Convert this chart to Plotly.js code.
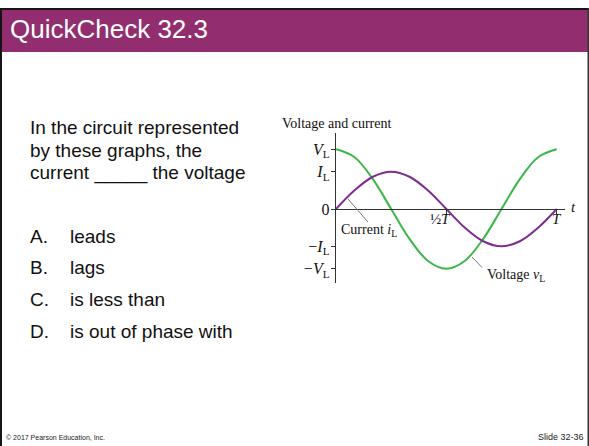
<!DOCTYPE html>
<html>
<head>
<meta charset="utf-8">
<script src="https://cdn.plot.ly/plotly-3.0.1.min.js"></script>
<style>
  html, body { margin: 0; padding: 0; background: #fff; }
  #chart { width: 589px; height: 446px; }
</style>
</head>
<body>
<div id="chart"></div>
<script>
// ---- Data (time in units of T, values relative to V_L) ----
const timeT   = [0, 0.083, 0.167, 0.25, 0.333, 0.417, 0.5, 0.583, 0.667, 0.75, 0.833, 0.917, 1];
const voltage = [1, 0.87, 0.5, 0, -0.5, -0.87, -1, -0.87, -0.5, 0, 0.5, 0.87, 1];
const current = [0, 0.31, 0.54, 0.625, 0.54, 0.31, 0, -0.31, -0.54, -0.625, -0.54, -0.31, 0];

const yTickVals  = [1, 0.625, 0, -0.625, -1];
const yTickText  = ['<i>V</i><sub>L</sub>', '<i>I</i><sub>L</sub>', '0', '\u2212<i>I</i><sub>L</sub>', '\u2212<i>V</i><sub>L</sub>'];
const xTickVals  = [0.5, 1];

const titleText  = 'QuickCheck 32.3';
const questionLines = ['In the circuit represented', 'by these graphs, the', 'current _____ the voltage'];
const optionLetters = ['A.', 'B.', 'C.', 'D.'];
const optionTexts   = ['leads', 'lags', 'is less than', 'is out of phase with'];

// ---- layout helpers (page pixels -> paper fractions) ----
const W = 589, H = 446;
const px = v => v / W;
const py = v => 1 - v / H;

const sans = 'Liberation Sans, Arial, Helvetica, sans-serif';
const serif = 'Liberation Serif, Times New Roman, serif';

const traces = [
  { x: timeT, y: voltage, type: 'scatter', mode: 'lines', line: { color: '#3DB54A', width: 2, shape: 'spline' }, hoverinfo: 'skip', showlegend: false },
  { x: timeT, y: current, type: 'scatter', mode: 'lines', line: { color: '#7E2C8E', width: 2, shape: 'spline' }, hoverinfo: 'skip', showlegend: false }
];

const annotations = [];
function ann(text, x, y, opts) {
  annotations.push(Object.assign({
    text: text, x: x, y: y, xref: 'paper', yref: 'paper', showarrow: false,
    xanchor: 'left', yanchor: 'middle', font: { family: sans, size: 19, color: '#111' }
  }, opts || {}));
}

ann(titleText, px(8), py(29), { font: { family: sans, size: 26, color: '#ffffff' } });
const qY = [127, 150, 173];
questionLines.forEach((t, i) => ann(t, px(28), py(qY[i])));
const oY = [236, 267.5, 299.5, 331];
optionLetters.forEach((t, i) => ann(t, px(28), py(oY[i])));
optionTexts.forEach((t, i) => ann(t, px(68), py(oY[i])));

ann('\u00a9 2017 Pearson Education, Inc.', px(4), py(437), { font: { family: sans, size: 7, color: '#222' } });
ann('Slide 32-36', px(586), py(437), { xanchor: 'right', font: { family: sans, size: 9, color: '#222' } });

// chart labels
ann('Voltage and current', px(280), py(123.5), { font: { family: serif, size: 14, color: '#111' } });
ann('Current <i>i</i><sub>L</sub>', px(339), py(230), { font: { family: serif, size: 14, color: '#111' } });
ann('Voltage <i>v</i><sub>L</sub>', px(485), py(275), { font: { family: serif, size: 14, color: '#111' } });
ann('<i>t</i>', px(569), py(207), { font: { family: serif, size: 15, color: '#111' } });
ann('\u00bd', 0.5, py(219), { xref: 'x', xanchor: 'right', xshift: -3, font: { family: serif, size: 15, color: '#111' } });
ann('<i>T</i>', 0.5, py(219), { xref: 'x', xanchor: 'center', font: { family: serif, size: 15, color: '#111' } });
ann('<i>T</i>', 1, py(219), { xref: 'x', xanchor: 'center', font: { family: serif, size: 15, color: '#111' } });

const shapes = [
  // header bar
  { type: 'rect', xref: 'paper', yref: 'paper', x0: 0, x1: 1, y0: py(52), y1: py(9.5), fillcolor: '#922E6F', line: { width: 0 }, layer: 'below' },
  { type: 'rect', xref: 'paper', yref: 'paper', x0: 0, x1: 1, y0: py(10), y1: py(8), fillcolor: '#151515', line: { width: 0 }, layer: 'below' },
  // left / right border
  { type: 'rect', xref: 'paper', yref: 'paper', x0: 0, x1: px(2), y0: 0, y1: py(8), fillcolor: '#151515', line: { width: 0 }, layer: 'below' },
  { type: 'rect', xref: 'paper', yref: 'paper', x0: px(587.5), x1: 1, y0: 0, y1: py(8), fillcolor: '#333', line: { width: 0 }, layer: 'below' },
  // leader lines
  { type: 'line', xref: 'x', yref: 'y', x0: (348 - 336) / 220.7, y0: (209 - 199) / 59.7, x1: (368 - 336) / 220.7, y1: (209 - 222) / 59.7, line: { color: '#777', width: 1 } },
  { type: 'line', xref: 'x', yref: 'y', x0: (472 - 336) / 220.7, y0: (209 - 257) / 59.7, x1: (482 - 336) / 220.7, y1: (209 - 267.5) / 59.7, line: { color: '#777', width: 1 } }
];

const layout = {
  width: W, height: H,
  margin: { l: 0, r: 0, t: 0, b: 0, pad: 0 },
  paper_bgcolor: '#ffffff', plot_bgcolor: 'rgba(0,0,0,0)',
  showlegend: false,
  xaxis: {
    domain: [px(336), px(565)], range: [0, (565 - 336) / 220.7],
    anchor: 'free', position: (H - 209) / H,
    showline: true, linecolor: '#333', linewidth: 1.3,
    ticks: 'outside', ticklen: 4, tickwidth: 1, tickcolor: '#333',
    tickvals: xTickVals, showticklabels: false,
    showgrid: false, zeroline: false, fixedrange: true
  },
  yaxis: {
    domain: [(H - 283) / H, (H - 133) / H], range: [-(283 - 209) / 59.7, (209 - 133) / 59.7],
    anchor: 'x',
    showline: true, linecolor: '#333', linewidth: 1.3,
    ticks: 'outside', ticklen: 4, tickwidth: 1, tickcolor: '#333',
    ticklabelstandoff: -2,
    tickvals: yTickVals, ticktext: yTickText,
    tickfont: { family: serif, size: 16, color: '#111' },
    showgrid: false, zeroline: false, fixedrange: true
  },
  shapes: shapes,
  annotations: annotations
};

Plotly.newPlot('chart', traces, layout, { staticPlot: true, displayModeBar: false });
</script>
</body>
</html>
